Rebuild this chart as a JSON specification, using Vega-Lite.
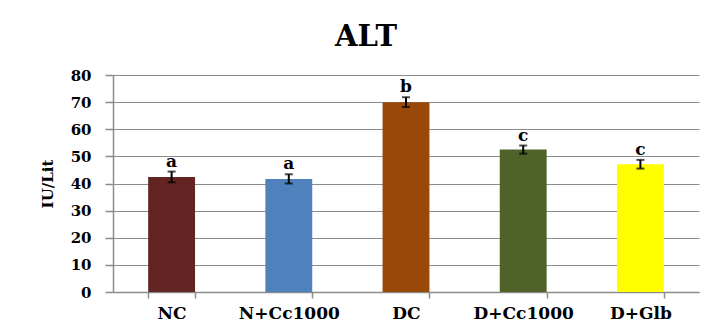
{
  "$schema": "https://vega.github.io/schema/vega-lite/v6.json",
  "autosize": "none",
  "width": 586,
  "height": 217,
  "padding": {"left": 113, "top": 75, "right": 11, "bottom": 35},
  "background": "white",
  "title": {
    "text": "ALT",
    "font": "DejaVu Serif",
    "fontSize": 29,
    "fontWeight": "bold",
    "color": "black",
    "anchor": "middle",
    "dx": -40,
    "dy": 38,
    "baseline": "bottom",
    "offset": 25
  },
  "config": {
    "view": {"stroke": null},
    "axisY": {
      "title": "IU/Lit",
      "titleFontSize": 15,
      "titlePadding": 15,
      "labelFontSize": 15,
      "labelPadding": 14,
      "labelOverlap": false,
      "tickSize": 8,
      "values": [0, 10, 20, 30, 40, 50, 60, 70, 80],
      "grid": true
    },
    "axis": {
      "labelFont": "DejaVu Serif",
      "labelFontWeight": "bold",
      "labelColor": "black",
      "titleFont": "DejaVu Serif",
      "titleFontWeight": "bold",
      "titleColor": "black",
      "domainColor": "#8c8c8c",
      "tickColor": "#8c8c8c",
      "gridColor": "#8c8c8c",
      "domainWidth": 1.5,
      "tickWidth": 1.5,
      "gridWidth": 1.2
    }
  },
  "data": {
    "values": [
      {"group": "NC", "mean": 42.4, "sd": 2.0, "sig": "a", "color": "#632523"},
      {"group": "N+Cc1000", "mean": 41.7, "sd": 1.7, "sig": "a", "color": "#4F81BD"},
      {"group": "DC", "mean": 70.0, "sd": 1.8, "sig": "b", "color": "#984807"},
      {"group": "D+Cc1000", "mean": 52.5, "sd": 1.5, "sig": "c", "color": "#4F6228"},
      {"group": "D+Glb", "mean": 47.1, "sd": 1.6, "sig": "c", "color": "#FFFF00"}
    ]
  },
  "transform": [
    {"calculate": "datum.mean - datum.sd", "as": "lo"},
    {"calculate": "datum.mean + datum.sd", "as": "hi"}
  ],
  "encoding": {
    "x": {
      "field": "group",
      "type": "nominal",
      "sort": null,
      "scale": {"paddingInner": 0.6, "paddingOuter": 0.3},
      "axis": {
        "title": null,
        "labelAngle": 0,
        "labelFontSize": 17,
        "labelPadding": 7,
        "tickBand": "extent",
        "tickSize": 6,
        "grid": false
      }
    }
  },
  "layer": [
    {
      "mark": {"type": "bar"},
      "encoding": {
        "y": {
          "field": "mean",
          "type": "quantitative",
          "title": "IU/Lit",
          "scale": {"domain": [0, 80]}
        },
        "color": {"field": "color", "type": "nominal", "scale": null, "legend": null}
      }
    },
    {
      "mark": {"type": "rule", "color": "black", "strokeWidth": 2},
      "encoding": {
        "y": {"field": "lo", "type": "quantitative", "title": "IU/Lit"},
        "y2": {"field": "hi"}
      }
    },
    {
      "mark": {"type": "tick", "color": "black", "size": 8, "thickness": 2, "orient": "horizontal"},
      "encoding": {"y": {"field": "lo", "type": "quantitative", "title": "IU/Lit"}}
    },
    {
      "mark": {"type": "tick", "color": "black", "size": 8, "thickness": 2, "orient": "horizontal"},
      "encoding": {"y": {"field": "hi", "type": "quantitative", "title": "IU/Lit"}}
    },
    {
      "mark": {"type": "text", "font": "DejaVu Serif", "fontWeight": "bold", "fontSize": 17, "baseline": "alphabetic", "dy": -5, "color": "black"},
      "encoding": {
        "y": {"field": "hi", "type": "quantitative", "title": "IU/Lit"},
        "text": {"field": "sig"}
      }
    }
  ]
}
